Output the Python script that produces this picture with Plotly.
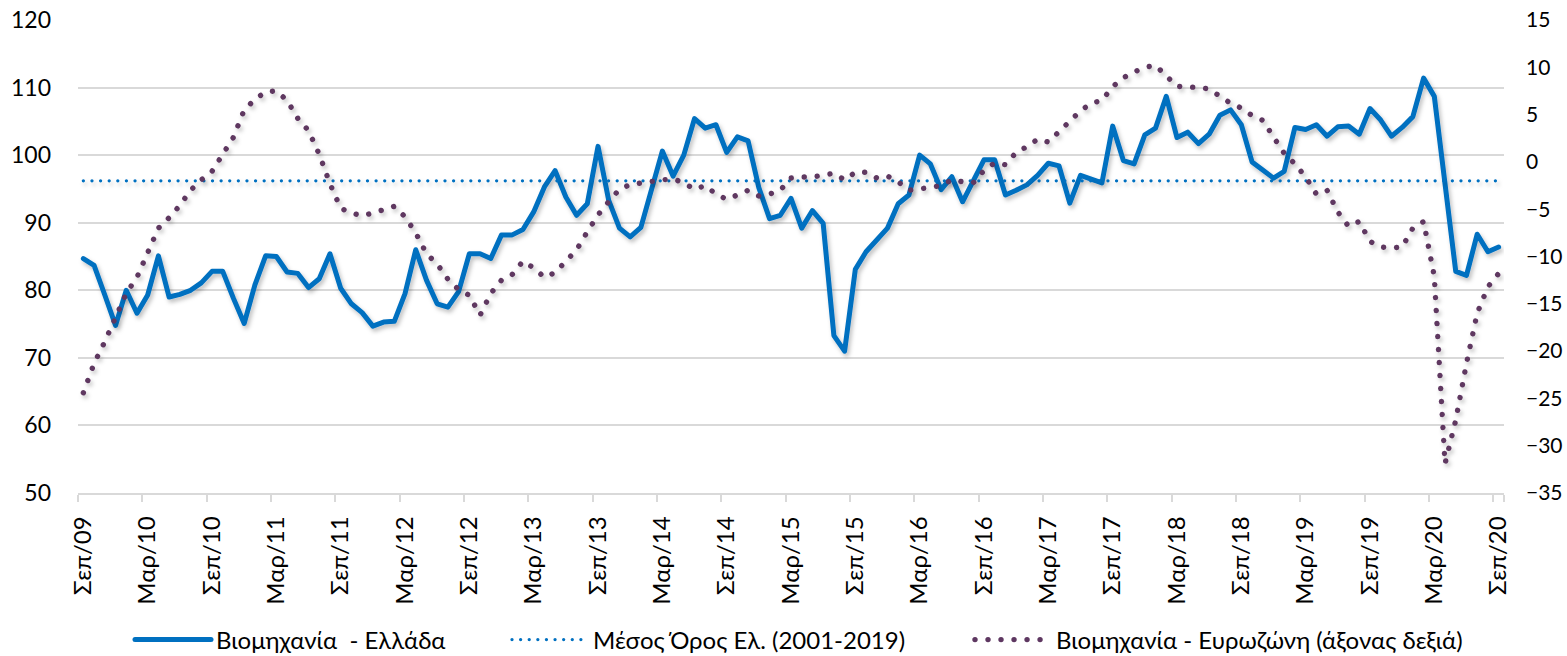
import plotly.graph_objects as go

# ---------------- data ----------------
MONTH_NAMES = ["Ιαν", "Φεβ", "Μαρ", "Απρ", "Μαϊ", "Ιουν", "Ιουλ", "Αυγ", "Σεπ", "Οκτ", "Νοε", "Δεκ"]
START_YEAR, START_MONTH = 2009, 9
N_MONTHS = 133  # Sep 2009 .. Sep 2020

months = []
for k in range(N_MONTHS):
    m = (START_MONTH - 1 + k) % 12
    y = START_YEAR + (START_MONTH - 1 + k) // 12
    months.append(f"{MONTH_NAMES[m]}/{y % 100:02d}")

TICK_LABELS = ["Σεπ/09", "Μαρ/10", "Σεπ/10", "Μαρ/11", "Σεπ/11", "Μαρ/12", "Σεπ/12",
               "Μαρ/13", "Σεπ/13", "Μαρ/14", "Σεπ/14", "Μαρ/15", "Σεπ/15", "Μαρ/16",
               "Σεπ/16", "Μαρ/17", "Σεπ/17", "Μαρ/18", "Σεπ/18", "Μαρ/19", "Σεπ/19",
               "Μαρ/20", "Σεπ/20"]

# Industry confidence - Greece (left axis)
industry_greece = [
    84.7, 83.7, 79.3, 74.8, 80.0, 76.6, 79.3, 85.1, 79.0, 79.4,
    80.0, 81.1, 82.8, 82.8, 78.8, 75.1, 80.8, 85.1, 85.0, 82.7,
    82.5, 80.4, 81.7, 85.4, 80.3, 78.0, 76.7, 74.7, 75.3, 75.4,
    79.5, 86.0, 81.5, 78.0, 77.5, 79.8, 85.4, 85.4, 84.7, 88.2,
    88.2, 89.0, 91.6, 95.3, 97.7, 93.8, 91.1, 92.8, 101.3, 93.3,
    89.2, 87.9, 89.3, 95.3, 100.6, 96.9, 100.0, 105.4, 104.0, 104.5,
    100.4, 102.7, 102.1, 95.2, 90.6, 91.1, 93.6, 89.2, 91.8, 89.9,
    73.3, 71.0, 83.1, 85.7, 87.4, 89.2, 92.8, 94.1, 100.0, 98.7,
    94.9, 96.8, 93.1, 96.3, 99.3, 99.3, 94.1, 94.8, 95.6, 97.0,
    98.8, 98.4, 92.9, 97.0, 96.5, 95.9, 104.3, 99.2, 98.7, 103.0,
    104.0, 108.7, 102.6, 103.4, 101.7, 103.1, 105.9, 106.7, 104.5, 99.0,
    97.8, 96.6, 97.6, 104.1, 103.8, 104.5, 102.8, 104.2, 104.3, 103.1,
    106.9, 105.2, 102.8, 104.1, 105.7, 111.4, 108.7, 95.8, 82.8, 82.2,
    88.3, 85.7, 86.4,
]

# Long-run average Greece 2001-2019 (left axis)
AVG_GREECE = 96.2
avg_greece = [AVG_GREECE] * N_MONTHS

# Industry confidence - Euro area (right axis)
industry_euro = [
    -24.4, -21.3, -19.0, -16.3, -13.9, -12.2, -9.7, -7.0, -5.9, -4.6,
    -3.0, -1.9, -1.0, 0.9, 2.6, 5.5, 6.6, 7.4, 7.5, 6.5,
    4.6, 3.3, 0.8, -2.3, -4.9, -5.4, -5.7, -5.4, -5.0, -4.7,
    -5.8, -7.5, -9.7, -10.8, -12.4, -13.5, -14.1, -16.2, -13.9, -12.5,
    -11.9, -10.5, -11.2, -12.2, -11.7, -10.5, -9.3, -7.4, -5.6, -4.2,
    -2.9, -2.4, -2.2, -2.05, -1.9, -1.8, -2.2, -2.9, -2.5, -3.4,
    -3.95, -3.5, -3.0, -3.6, -3.4, -3.0, -1.7, -1.6, -1.6, -1.4,
    -1.2, -1.9, -1.1, -1.1, -1.7, -1.5, -2.1, -3.0, -2.9, -2.7,
    -2.5, -1.9, -2.1, -2.2, -0.9, -0.1, -0.3, 1.0, 1.6, 2.4,
    2.1, 3.2, 4.2, 5.4, 6.2, 6.5, 7.95, 8.9, 9.5, 10.0,
    10.2, 9.1, 8.0, 7.9, 7.9, 7.7, 6.9, 6.2, 5.7, 4.9,
    4.4, 2.7, 0.9, -0.2, -1.6, -3.4, -3.0, -5.3, -6.8, -6.3,
    -8.4, -9.0, -9.1, -9.0, -7.0, -6.3, -12.1, -31.9, -27.3, -21.3,
    -16.0, -13.2, -11.8,
]

assert len(industry_greece) == N_MONTHS and len(industry_euro) == N_MONTHS

LEFT_TICKS = [50, 60, 70, 80, 90, 100, 110, 120]
RIGHT_TICKS = [-35, -30, -25, -20, -15, -10, -5, 0, 5, 10, 15]

# ---------------- styling ----------------
BLUE = "#0070C0"
PURPLE = "#5E3761"
GRID = "#D9D9D9"
FONT = "Lato, 'Noto Sans', sans-serif"
LEG_FONT = dict(family=FONT, size=24, color="#000000")

fig = go.Figure()
fig.add_trace(go.Scatter(
    x=months, y=industry_greece, name="Βιομηχανία  - Ελλάδα", mode="lines",
    line=dict(color=BLUE, width=5), yaxis="y", legend="legend"))
fig.add_trace(go.Scatter(
    x=months, y=avg_greece, name="Μέσος Όρος Ελ. (2001-2019)", mode="lines",
    line=dict(color=BLUE, width=3, dash="3px,5.6px"), yaxis="y", legend="legend2"))
fig.add_trace(go.Scatter(
    x=months, y=industry_euro, name="Βιομηχανία - Ευρωζώνη (άξονας δεξιά)", mode="lines",
    line=dict(color=PURPLE, width=5, dash="5px,8px"), yaxis="y2", legend="legend3"))

def leg(xpx):
    return dict(orientation="h", xref="container", yref="container",
                x=xpx / 1567, xanchor="left", y=1 - 640 / 656, yanchor="middle",
                itemwidth=76, font=LEG_FONT, bgcolor="rgba(0,0,0,0)")

fig.update_layout(
    width=1567, height=656,
    margin=dict(l=78, r=63, t=20, b=163, autoexpand=False),
    paper_bgcolor="white", plot_bgcolor="white",
    font=dict(family=FONT, size=23, color="#000000"),
    showlegend=True,
    legend=leg(130), legend2=leg(507), legend3=leg(970),
    xaxis=dict(type="category", categoryorder="array", categoryarray=months,
               range=[-0.5, N_MONTHS - 0.5], tickmode="array", tickvals=TICK_LABELS,
               ticktext=TICK_LABELS, tickson="boundaries", ticks="outside", ticklen=7,
               tickcolor=GRID, tickwidth=1.5, tickangle=-90, showgrid=False,
               showline=True, linecolor=GRID, linewidth=1.5, automargin=False,
               tickfont=dict(size=24), ticklabelstandoff=12),
    yaxis=dict(range=[50, 120], tickvals=LEFT_TICKS, showgrid=True, gridcolor=GRID,
               gridwidth=1.5, zeroline=False, showline=False, ticks="", automargin=False,
               ticklabelstandoff=26, tickfont=dict(size=23)),
    yaxis2=dict(range=[-35, 15], tickvals=RIGHT_TICKS, overlaying="y", side="right",
                showgrid=False, zeroline=False, showline=False, ticks="", automargin=False,
                ticklabelstandoff=21, tickfont=dict(size=21)),
)

post_js = """
(function(){
  document.documentElement.style.margin = '0';
  document.body.style.margin = '0';
  document.body.style.overflow = 'hidden';
  var gd = document.getElementById('{plot_id}');
  function fix(){
    var svg = gd.querySelector('svg.main-svg');
    if(!svg) return;
    var ns = 'http://www.w3.org/2000/svg';
    if(!document.getElementById('lnshadow')){
      var defs = svg.querySelector('defs') || svg.insertBefore(document.createElementNS(ns,'defs'), svg.firstChild);
      var f = document.createElementNS(ns,'filter');
      f.setAttribute('id','lnshadow');
      f.setAttribute('filterUnits','userSpaceOnUse');
      f.setAttribute('x','-200'); f.setAttribute('y','-200');
      f.setAttribute('width','3000'); f.setAttribute('height','2000');
      var ds = document.createElementNS(ns,'feDropShadow');
      ds.setAttribute('dx','2'); ds.setAttribute('dy','3');
      ds.setAttribute('stdDeviation','2');
      ds.setAttribute('flood-color','#000'); ds.setAttribute('flood-opacity','0.25');
      f.appendChild(ds); defs.appendChild(f);
    }
    gd.querySelectorAll('path.js-line').forEach(function(p){
      var st = p.style.stroke || '';
      var da = p.style.strokeDasharray || '';
      var inLegend = !!p.closest('g.legend, g[class^="legend"]');
      p.style.strokeLinecap = 'round';
      p.style.strokeLinejoin = 'round';
      if(st.indexOf('94, 55, 97') >= 0){
        p.style.strokeDasharray = '0.01px, 13px';
        p.style.strokeWidth = '5.4px';
      } else if(da && da !== 'none' && da !== ''){
        p.style.strokeDasharray = '0.01px, 8.6px';
        p.style.strokeWidth = '3.3px';
      }
      if(!inLegend){ p.setAttribute('filter','url(#lnshadow)'); }
    });
  }
  fix();
  gd.on && gd.on('plotly_afterplot', fix);
  setTimeout(fix, 50);
})();
"""

fig.write_html("out.html", post_script=post_js, config={"displayModeBar": False})
